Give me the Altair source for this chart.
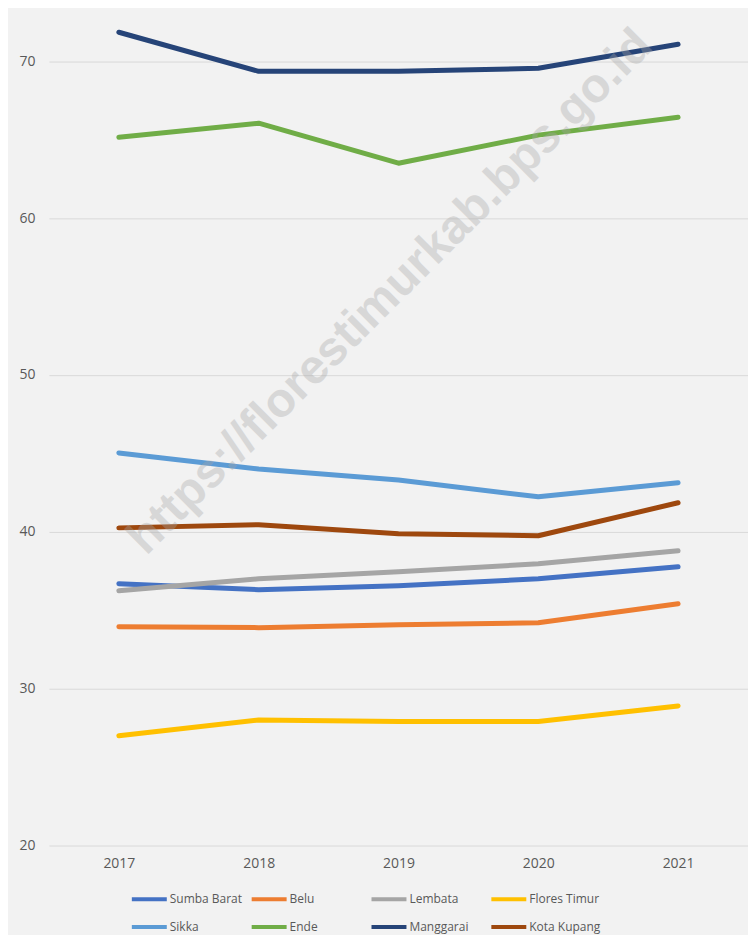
import altair as alt
import pandas as pd

years = ["2017", "2018", "2019", "2020", "2021"]
regions = ["Sumba Barat", "Belu", "Lembata", "Flores Timur",
           "Sikka", "Ende", "Manggarai", "Kota Kupang"]
colors = ["#4472c4", "#ed7d31", "#a5a5a5", "#ffc000",
          "#5b9bd5", "#70ad47", "#264478", "#9e480e"]

sumba_barat = [36.69, 36.31, 36.56, 37.00, 37.77]
belu = [33.95, 33.89, 34.08, 34.20, 35.41]
lembata = [36.24, 37.00, 37.45, 37.96, 38.79]
flores_timur = [27.00, 28.00, 27.90, 27.90, 28.90]
sikka = [45.03, 44.00, 43.30, 42.23, 43.12]
ende = [65.16, 66.05, 63.50, 65.29, 66.43]
manggarai = [71.85, 69.36, 69.36, 69.55, 71.08]
kota_kupang = [40.25, 40.45, 39.87, 39.75, 41.85]

series = [sumba_barat, belu, lembata, flores_timur,
          sikka, ende, manggarai, kota_kupang]

watermark = "https://florestimurkab.bps.go.id"

rows = []
for i, (name, vals) in enumerate(zip(regions, series)):
    for y, v in zip(years, vals):
        rows.append({"region": name, "year": y, "value": v, "idx": i})
df = pd.DataFrame(rows)

FONT = "Open Sans"

lines = alt.Chart(df).mark_line(
    strokeWidth=5, strokeCap="round", strokeJoin="round"
).encode(
    x=alt.X("year:O", scale=alt.Scale(type="point", padding=0.5),
            axis=alt.Axis(title=None, labelAngle=0, ticks=False, domain=False,
                          labelPadding=11, labelFontSize=14, labelColor="#595959",
                          labelFont=FONT, grid=False)),
    y=alt.Y("value:Q", scale=alt.Scale(domain=[20, 73.1], nice=False, zero=False),
            axis=alt.Axis(values=[20, 30, 40, 50, 60, 70], title=None, ticks=False,
                          domain=False, labelPadding=14, labelFontSize=14,
                          labelColor="#595959", labelFont=FONT,
                          gridColor="#d9d9d9", gridWidth=1)),
    color=alt.Color("region:N", scale=alt.Scale(domain=regions, range=colors),
                    legend=alt.Legend(orient="none", legendX=81, legendY=868,
                                      direction="horizontal",
                                      columns=4, gridAlign="all", title=None,
                                      symbolType="stroke", symbolSize=1225,
                                      symbolStrokeWidth=4, labelFontSize=12,
                                      labelColor="#595959", labelFont=FONT,
                                      rowPadding=-7, columnPadding=1,
                                      labelOffset=1)),
    detail="region:N",
    order="idx:Q",
)

wm = alt.Chart(pd.DataFrame({"t": [watermark]})).mark_text(
    angle=315, fontSize=48, fontWeight="bold", color="#a6a6a6", opacity=0.35,
    font="Liberation Sans", align="center", baseline="middle"
).encode(text="t:N", x=alt.value(342), y=alt.value(280))

chart = alt.layer(lines, wm).properties(
    width=700, height=834,
    autosize=alt.AutoSizeParams(type="none"),
    padding={"left": 41, "top": 4, "right": 0, "bottom": 89},
    background="#f2f2f2",
).configure_view(stroke=None)

chart.save("out.html", embed_options={"renderer": "svg", "actions": False})
